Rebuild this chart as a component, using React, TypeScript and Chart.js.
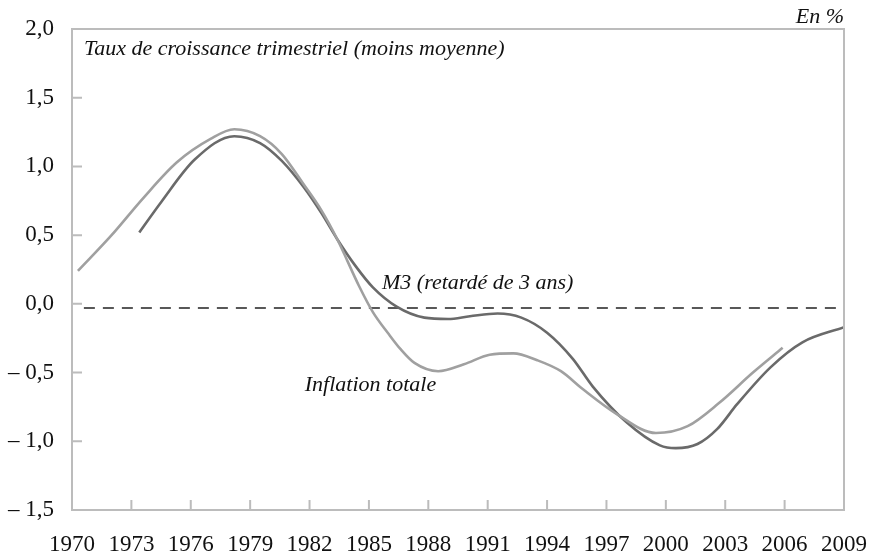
import React, { useEffect, useRef } from "react";
import { Chart, registerables } from "chart.js";

Chart.register(...registerables);

const tickYears = [1970, 1973, 1976, 1979, 1982, 1985, 1988, 1991, 1994, 1997, 2000, 2003, 2006, 2009];
const yTicks = [-1.5, -1, -0.5, 0, 0.5, 1, 1.5, 2];

const inflationYears = [1970.3, 1972.0, 1973.6, 1975.3, 1977.0, 1978.2, 1979.5, 1980.6, 1981.7, 1982.6, 1983.4, 1984.5, 1985.2, 1986.0, 1986.6, 1987.3, 1988.5, 1989.8, 1991.1, 1992.3, 1993.5, 1994.7, 1995.8, 1997.5, 1999.5, 2001.1, 2002.7, 2004.4, 2005.9];
const inflation = [0.24, 0.5, 0.77, 1.03, 1.2, 1.27, 1.22, 1.09, 0.87, 0.68, 0.47, 0.13, -0.06, -0.22, -0.33, -0.43, -0.49, -0.44, -0.37, -0.36, -0.41, -0.49, -0.62, -0.8, -0.94, -0.89, -0.72, -0.5, -0.32];

const m3Years = [1973.4, 1974.5, 1976.2, 1978.2, 1979.5, 1980.6, 1981.7, 1982.6, 1983.4, 1984.3, 1985.2, 1986.4, 1987.8, 1989.0, 1990.1, 1991.5, 1992.7, 1994.0, 1995.3, 1996.3, 1998.0, 1999.7, 2000.5, 2001.6, 2002.6, 2003.6, 2005.3, 2006.9, 2009.0];
const m3 = [0.52, 0.74, 1.05, 1.22, 1.17, 1.04, 0.85, 0.66, 0.47, 0.28, 0.12, -0.02, -0.1, -0.11, -0.09, -0.07, -0.1, -0.21, -0.4, -0.6, -0.86, -1.03, -1.05, -1.02, -0.91, -0.73, -0.46, -0.28, -0.17];

const refLineYears = [1970.6, 2009];
const refLineValue = -0.03;

const titleText = "Taux de croissance trimestriel (moins moyenne)";
const unitText = "En %";
const m3Label = "M3 (retardé de 3 ans)";
const inflationLabel = "Inflation totale";

const SERIF = "'Liberation Serif', 'DejaVu Serif', serif";

const fmtY = (v: number) => {
  const s = Math.abs(v).toFixed(1).replace(".", ",");
  return v < 0 ? "– " + s : s;
};

const decorPlugin = {
  id: "decor",
  afterDatasetsDraw(chart: any) {
    const { ctx, chartArea, scales } = chart;
    const { left, right, top, bottom } = chartArea;
    const x = scales.x;
    const y = scales.y;
    ctx.save();
    ctx.strokeStyle = "#bcbcbc";
    ctx.lineWidth = 2;
    ctx.strokeRect(left, top, right - left, bottom - top);
    ctx.beginPath();
    yTicks.forEach((v) => {
      const py = y.getPixelForValue(v);
      ctx.moveTo(left, py);
      ctx.lineTo(left + 10, py);
    });
    tickYears.forEach((v) => {
      const px = x.getPixelForValue(v);
      ctx.moveTo(px, bottom);
      ctx.lineTo(px, bottom - 10);
    });
    ctx.stroke();

    ctx.fillStyle = "#111";
    ctx.font = "italic 22px " + SERIF;
    ctx.textBaseline = "middle";
    ctx.textAlign = "left";
    ctx.fillText(titleText, left + 12, top + 20);
    ctx.textAlign = "right";
    ctx.fillText(unitText, right, top - 12);
    ctx.textAlign = "left";
    ctx.fillText(m3Label, x.getPixelForValue(1985.66), y.getPixelForValue(0.153));
    ctx.fillText(inflationLabel, x.getPixelForValue(1981.76), y.getPixelForValue(-0.59));
    ctx.restore();
  },
};

export default function App() {
  const ref = useRef<HTMLCanvasElement | null>(null);
  useEffect(() => {
    if (!ref.current) return;
    const chart = new Chart(ref.current, {
      type: "line",
      data: {
        datasets: [
          {
            label: "Inflation totale",
            data: inflationYears.map((yr, i) => ({ x: yr, y: inflation[i] })),
            borderColor: "#a0a0a0",
            borderWidth: 2.6,
            pointRadius: 0,
            cubicInterpolationMode: "monotone",
            fill: false,
          },
          {
            label: "M3 (retardé de 3 ans)",
            data: m3Years.map((yr, i) => ({ x: yr, y: m3[i] })),
            borderColor: "#6a6a6a",
            borderWidth: 2.6,
            pointRadius: 0,
            cubicInterpolationMode: "monotone",
            fill: false,
          },
          {
            label: "ref",
            data: refLineYears.map((yr) => ({ x: yr, y: refLineValue })),
            borderColor: "#222",
            borderWidth: 1.4,
            borderDash: [11, 8],
            pointRadius: 0,
            fill: false,
          },
        ],
      },
      options: {
        responsive: false,
        animation: false,
        events: [],
        layout: { padding: { top: 29, right: 28, left: 0, bottom: 0 } },
        plugins: { legend: { display: false }, tooltip: { enabled: false } },
        scales: {
          x: {
            type: "linear",
            min: 1970,
            max: 2009,
            afterBuildTicks: (s: any) => {
              s.ticks = tickYears.map((v) => ({ value: v }));
            },
            afterFit: (s: any) => {
              s.height = 47;
              s.paddingLeft = 0;
              s.paddingRight = 0;
            },
            grid: { drawOnChartArea: false, drawTicks: false, color: "transparent" },
            border: { display: false },
            ticks: {
              autoSkip: false,
              maxRotation: 0,
              padding: 21,
              color: "#111",
              font: { family: SERIF, size: 23 },
              callback: (v: any) => String(v),
            },
          },
          y: {
            type: "linear",
            min: -1.5,
            max: 2,
            afterBuildTicks: (s: any) => {
              s.ticks = yTicks.map((v) => ({ value: v }));
            },
            afterFit: (s: any) => {
              s.width = 72;
              s.paddingTop = 0;
              s.paddingBottom = 0;
            },
            grid: { drawOnChartArea: false, drawTicks: false, color: "transparent" },
            border: { display: false },
            ticks: {
              padding: 18,
              color: "#111",
              font: { family: SERIF, size: 23 },
              callback: (v: any) => fmtY(Number(v)),
            },
          },
        },
      },
      plugins: [decorPlugin],
    } as any);
    return () => chart.destroy();
  }, []);
  return (
    <div style={{ position: "absolute", left: 0, top: 0, width: 872, height: 557, background: "#fff" }}>
      <canvas ref={ref} width={872} height={557} />
    </div>
  );
}
